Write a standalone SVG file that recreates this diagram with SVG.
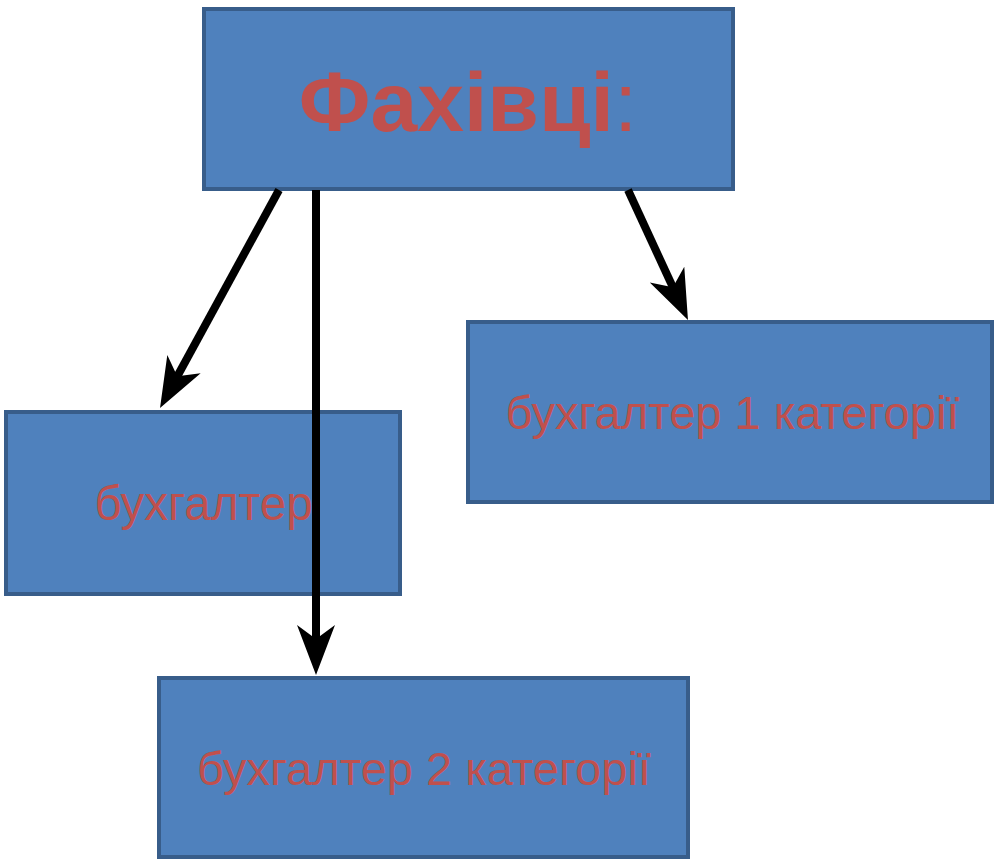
<svg xmlns="http://www.w3.org/2000/svg" width="994" height="860" viewBox="0 0 994 860">
<style>
.box{fill:#4F81BD;stroke:#385D8A;stroke-width:4}
.lbl{fill:#C0504D;font-family:"Liberation Sans",Arial,sans-serif;text-anchor:middle}
.con{stroke:#000;stroke-width:8;fill:none}
</style>
<defs>
<marker id="ah" viewBox="-2 -22 54 44" refX="25" refY="0" markerWidth="54" markerHeight="44" markerUnits="userSpaceOnUse" orient="auto">
<path d="M50,0 L0,-19 L14,0 L0,19 Z" fill="#000"/>
</marker>
</defs>
<rect width="994" height="860" fill="#fff"/>
<g id="n-top">
<rect class="box" x="204" y="9" width="529" height="180"/>
<text class="lbl" x="468" y="131" font-size="84" font-weight="bold">Фахівці<tspan font-weight="normal">:</tspan></text>
</g>
<g id="n-right">
<rect class="box" x="468" y="322" width="524" height="180"/>
<text class="lbl" x="732.5" y="429" font-size="47">бухгалтер 1 категорії</text>
</g>
<g id="n-left">
<rect class="box" x="6" y="412" width="394" height="182"/>
<text class="lbl" x="203.5" y="520" font-size="47.5">бухгалтер</text>
</g>
<g id="n-bottom">
<rect class="box" x="159" y="678" width="529" height="179"/>
<text class="lbl" x="424" y="785" font-size="47">бухгалтер 2 категорії</text>
</g>
<g id="connectors">
<line class="con" x1="279" y1="190" x2="172" y2="386" marker-end="url(#ah)"/>
<line class="con" x1="316" y1="190" x2="316" y2="650" marker-end="url(#ah)"/>
<line class="con" x1="628" y1="190" x2="677.5" y2="297.3" marker-end="url(#ah)"/>
</g>
</svg>
